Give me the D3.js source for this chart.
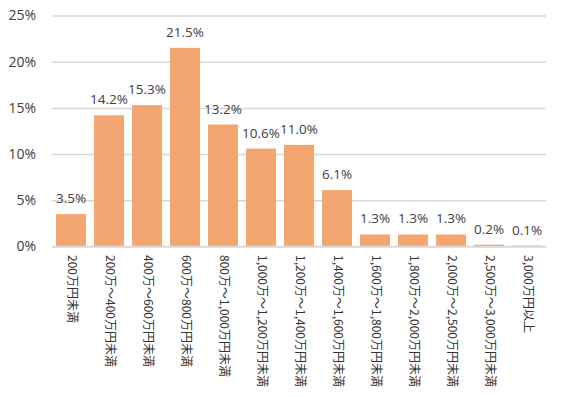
<!DOCTYPE html>
<html>
<head>
<meta charset="utf-8">
<script src="https://cdn.jsdelivr.net/npm/d3@7"></script>
<style>
  body { margin: 0; background: #fff; }
  .tick text { font-family: "Open Sans", sans-serif; }
</style>
</head>
<body>
<div id="chart"></div>
<script>
const categories = [
  "200万円未満", "200万～400万円未満", "400万～600万円未満", "600万～800万円未満",
  "800万～1,000万円未満", "1,000万～1,200万円未満", "1,200万～1,400万円未満",
  "1,400万～1,600万円未満", "1,600万～1,800万円未満", "1,800万～2,000万円未満",
  "2,000万～2,500万円未満", "2,500万～3,000万円未満", "3,000万円以上"
];
const values = [3.5, 14.2, 15.3, 21.5, 13.2, 10.6, 11.0, 6.1, 1.3, 1.3, 1.3, 0.2, 0.1];
const yTicks = [0, 5, 10, 15, 20, 25];

// SVG dimensions
const width = 567;
const height = 397;
const margin = { top: 15.5, right: 21, bottom: 150.5, left: 52 };
const chartWidth = width - margin.left - margin.right;
const chartHeight = height - margin.top - margin.bottom;

const svg = d3.select("#chart")
  .append("svg")
  .attr("width", width)
  .attr("height", height);

const chart = svg.append("g")
  .attr("transform", `translate(${margin.left}, ${margin.top})`);

const xScale = d3.scaleBand()
  .domain(categories)
  .range([0, chartWidth])
  .paddingInner(0.21)
  .paddingOuter(0.105);

const yScale = d3.scaleLinear()
  .domain([0, 25])
  .range([chartHeight, 0]);

// gridlines + y labels
const yAxis = d3.axisLeft(yScale)
  .tickValues(yTicks)
  .tickSize(-chartWidth)
  .tickPadding(16)
  .tickFormat(d => d + "%");

chart.append("g")
  .attr("class", "y-axis")
  .call(yAxis)
  .call(g => g.select(".domain").remove())
  .call(g => g.selectAll(".tick line").attr("stroke", "#d9d9d9").attr("stroke-width", 1.5))
  .call(g => g.selectAll(".tick text")
    .attr("fill", "#404040")
    .attr("font-size", 14));

// bars
chart.selectAll(".bar")
  .data(values)
  .join("rect")
  .attr("class", "bar")
  .attr("x", (d, i) => xScale(categories[i]))
  .attr("y", d => yScale(d))
  .attr("width", xScale.bandwidth())
  .attr("height", d => chartHeight - yScale(d))
  .attr("fill", "#f3a66f");

// baseline
chart.append("line")
  .attr("x1", 0)
  .attr("x2", chartWidth)
  .attr("y1", chartHeight)
  .attr("y2", chartHeight)
  .attr("stroke", "#d9d9d9")
  .attr("stroke-width", 1.5);

// value labels
chart.selectAll(".bar-label")
  .data(values)
  .join("text")
  .attr("class", "bar-label")
  .attr("x", (d, i) => xScale(categories[i]) + xScale.bandwidth() / 2)
  .attr("y", d => yScale(d) - 11)
  .attr("text-anchor", "middle")
  .attr("font-family", "'Open Sans', sans-serif")
  .attr("font-size", 13.5)
  .attr("fill", "#404040")
  .text(d => d.toFixed(1) + "%");

// category labels, rotated
chart.selectAll(".cat-label")
  .data(categories)
  .join("text")
  .attr("class", "cat-label")
  .attr("transform", d => `translate(${xScale(d) + xScale.bandwidth() / 2}, ${chartHeight + 8.5}) rotate(90)`)
  .attr("dominant-baseline", "middle")
  .attr("font-family", "'Noto Sans CJK JP', sans-serif")
  .attr("font-size", 12)
  .attr("fill", "#333333")
  .text(d => d);
</script>
</body>
</html>
